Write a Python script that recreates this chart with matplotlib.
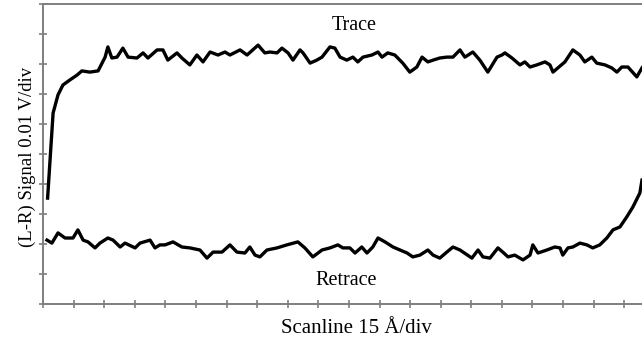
import numpy as np
import matplotlib
matplotlib.use('Agg')
import matplotlib.pyplot as plt

plt.rcParams['font.family'] = ['Liberation Serif', 'DejaVu Serif']

# scan position in divisions (15 A/div), signal in divisions (0.01 V/div)
trace_x = [0.15, 0.23, 0.33, 0.49, 0.65, 0.88, 1.11, 1.27, 1.53, 1.80,
           1.93, 2.03, 2.12, 2.25, 2.42, 2.61, 2.78, 3.07, 3.27, 3.43,
           3.73, 3.92, 4.08, 4.38, 4.54, 4.80, 5.03, 5.23, 5.46, 5.72,
           5.95, 6.11, 6.44, 6.67, 7.03, 7.25, 7.42, 7.65, 7.81, 8.01,
           8.17, 8.40, 8.50, 8.73, 8.95, 9.12, 9.38, 9.54, 9.71, 9.93,
           10.13, 10.29, 10.46, 10.75, 10.95, 11.08, 11.27, 11.50, 11.76, 11.99,
           12.22, 12.39, 12.58, 12.75, 12.97, 13.20, 13.40, 13.63, 13.79, 14.05,
           14.28, 14.54, 14.84, 15.00, 15.10, 15.33, 15.59, 15.75, 15.92, 16.14,
           16.41, 16.57, 16.67, 16.83, 17.06, 17.32, 17.55, 17.71, 17.94, 18.10,
           18.37, 18.59, 18.76, 18.92, 19.12, 19.41, 19.58]
trace_y = [3.53, 4.80, 6.37, 6.97, 7.30, 7.47, 7.63, 7.77, 7.73, 7.77,
           8.03, 8.23, 8.57, 8.20, 8.23, 8.53, 8.23, 8.20, 8.37, 8.20,
           8.47, 8.47, 8.13, 8.37, 8.20, 7.97, 8.30, 8.07, 8.40, 8.30,
           8.40, 8.30, 8.47, 8.30, 8.63, 8.37, 8.40, 8.37, 8.53, 8.37,
           8.13, 8.47, 8.37, 8.03, 8.13, 8.23, 8.57, 8.53, 8.23, 8.13,
           8.23, 8.07, 8.23, 8.30, 8.40, 8.23, 8.37, 8.30, 8.03, 7.73,
           7.90, 8.23, 8.07, 8.13, 8.20, 8.23, 8.23, 8.47, 8.23, 8.40,
           8.13, 7.73, 8.23, 8.30, 8.37, 8.20, 7.97, 8.07, 7.90, 7.97,
           8.07, 7.97, 7.73, 7.87, 8.07, 8.47, 8.30, 8.07, 8.23, 8.03,
           7.97, 7.87, 7.73, 7.90, 7.90, 7.57, 7.87]

retrace_x = [0.13, 0.29, 0.49, 0.72, 0.98, 1.14, 1.31, 1.47, 1.70, 1.86,
             2.12, 2.29, 2.52, 2.68, 3.01, 3.17, 3.50, 3.66, 3.82, 3.99,
             4.25, 4.54, 4.80, 5.13, 5.36, 5.56, 5.85, 6.11, 6.34, 6.60,
             6.76, 6.93, 7.09, 7.32, 7.65, 7.97, 8.33, 8.56, 8.82, 9.12,
             9.38, 9.64, 9.80, 10.03, 10.20, 10.42, 10.59, 10.78, 10.95, 11.18,
             11.44, 11.67, 11.90, 12.09, 12.32, 12.58, 12.75, 12.97, 13.20, 13.40,
             13.63, 14.02, 14.22, 14.38, 14.61, 14.87, 15.03, 15.20, 15.42, 15.69,
             15.92, 16.01, 16.18, 16.47, 16.73, 16.90, 16.99, 17.16, 17.32, 17.55,
             17.78, 17.97, 18.20, 18.43, 18.63, 18.86, 19.08, 19.28, 19.51, 19.58]
retrace_y = [2.13, 2.03, 2.37, 2.20, 2.20, 2.47, 2.13, 2.07, 1.87, 2.03,
             2.20, 2.13, 1.90, 2.03, 1.87, 2.03, 2.13, 1.87, 1.97, 1.97,
             2.07, 1.90, 1.87, 1.80, 1.53, 1.73, 1.73, 1.97, 1.73, 1.70,
             1.90, 1.63, 1.57, 1.80, 1.87, 1.97, 2.07, 1.87, 1.57, 1.80,
             1.87, 1.97, 1.87, 1.87, 1.70, 1.90, 1.70, 1.90, 2.20, 2.07,
             1.90, 1.80, 1.70, 1.57, 1.63, 1.80, 1.63, 1.53, 1.73, 1.90,
             1.80, 1.53, 1.80, 1.57, 1.53, 1.87, 1.73, 1.57, 1.63, 1.47,
             1.63, 1.97, 1.70, 1.80, 1.90, 1.87, 1.63, 1.87, 1.90, 2.03,
             1.97, 1.87, 1.97, 2.20, 2.47, 2.57, 2.90, 3.23, 3.70, 4.13]

fig = plt.figure(figsize=(6.42, 3.43), dpi=100)
ax = fig.add_axes([0.067, 0.1137, 0.933, 0.8746])

ax.plot(trace_x, trace_y, color='black', lw=2.4, solid_joinstyle='round')
ax.plot(retrace_x, retrace_y, color='black', lw=2.4, solid_joinstyle='round')

ax.set_xlim(0, 19.58)
ax.set_ylim(0, 10)
ax.set_xticks(np.arange(0, 20))
ax.set_yticks(np.arange(0, 11))
ax.set_xticklabels([])
ax.set_yticklabels([])
ax.tick_params(direction='inout', length=6, width=1.2, color='#7f7f7f')

for s in ['left', 'bottom', 'top']:
    ax.spines[s].set_color('#7f7f7f')
    ax.spines[s].set_linewidth(1.4)
ax.spines['right'].set_visible(False)

ax.text(10.16, 9.27, 'Trace', fontsize=14.5, ha='center', va='center')
ax.text(9.90, 0.80, 'Retrace', fontsize=14.5, ha='center', va='center')

ax.set_xlabel('Scanline 15 Å/div', fontsize=15)
ax.xaxis.set_label_coords((356 - 43) / 599, -0.05)
ax.set_ylabel('(L-R) Signal 0.01 V/div', fontsize=13.5)
ax.yaxis.set_label_coords(-0.012, 0.49)

fig.savefig('out.png', dpi=100)
